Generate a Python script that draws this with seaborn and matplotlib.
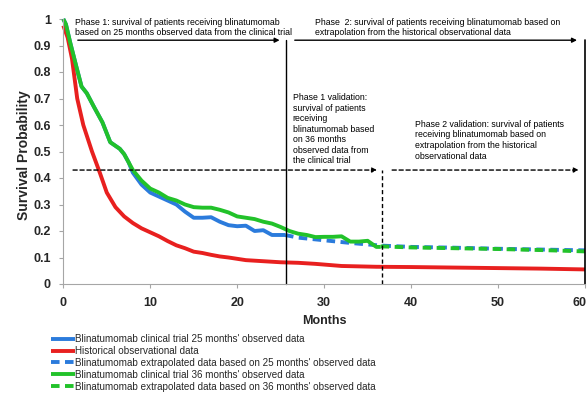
import matplotlib
matplotlib.use("Agg")
import matplotlib.pyplot as plt
import seaborn as sns
import pandas as pd

# ---------------- data ----------------
m_trial25 = [0, 0.3, 0.8, 1.5, 2.1, 2.7, 3.5, 4.5, 5.4, 6.5, 7, 7.5, 8, 9, 10, 11, 12, 13, 14, 15,
             16, 17, 18, 19, 20, 21, 22, 23, 24, 25, 25.5]
s_trial25 = [1.0, 0.98, 0.91, 0.82, 0.745, 0.72, 0.67, 0.61, 0.535, 0.51, 0.49, 0.46, 0.42, 0.375,
             0.345, 0.33, 0.315, 0.3, 0.273, 0.25, 0.25, 0.252, 0.235, 0.222, 0.218, 0.22, 0.2,
             0.203, 0.185, 0.185, 0.185]

m_hist = [0, 0.5, 1, 1.6, 2.3, 3.3, 4.2, 5, 6, 7, 8, 9, 10, 11, 12, 13, 14, 15, 16, 17, 18, 19,
          20, 21, 22, 23, 25, 27, 29, 32, 36, 40, 45, 50, 55, 60]
s_hist = [0.975, 0.93, 0.85, 0.7, 0.6, 0.5, 0.42, 0.345, 0.29, 0.255, 0.23, 0.21, 0.195, 0.18,
          0.162, 0.146, 0.135, 0.122, 0.117, 0.11, 0.104, 0.1, 0.095, 0.09, 0.088, 0.086, 0.082,
          0.08, 0.076, 0.068, 0.065, 0.064, 0.062, 0.06, 0.058, 0.055]

m_extra25 = [25.5, 27, 30, 33, 36.5, 40, 45, 50, 55, 60]
s_extra25 = [0.185, 0.175, 0.165, 0.155, 0.145, 0.14, 0.137, 0.133, 0.13, 0.127]

m_trial36 = [0, 0.3, 0.8, 1.5, 2.1, 2.7, 3.5, 4.5, 5.4, 6.5, 7, 8, 9, 10, 11, 12, 13, 14, 15, 16,
             17, 18, 19, 20, 21, 22, 23, 24, 25, 26, 27, 28, 29, 30, 31, 32, 33, 34, 35, 36, 36.5]
s_trial36 = [1.0, 0.98, 0.91, 0.82, 0.745, 0.72, 0.67, 0.61, 0.535, 0.51, 0.49, 0.43, 0.39, 0.36,
             0.345, 0.325, 0.315, 0.3, 0.29, 0.288, 0.288, 0.28, 0.27, 0.255, 0.25, 0.245, 0.235,
             0.228, 0.215, 0.2, 0.19, 0.185, 0.177, 0.178, 0.178, 0.18, 0.16, 0.16, 0.163, 0.14,
             0.14]

m_extra36 = [36.5, 40, 45, 50, 55, 60]
s_extra36 = [0.142, 0.138, 0.135, 0.132, 0.128, 0.123]

labels = ["Blinatumomab clinical trial 25 months' observed data",
          "Historical observational data",
          "Blinatumomab extrapolated data based on 25 months' observed data",
          "Blinatumomab clinical trial 36 months' observed data",
          "Blinatumomab extrapolated data based on 36 months' observed data"]

x_ticks = [0, 10, 20, 30, 40, 50, 60]
x_ticklabels = ["0", "10", "20", "30", "40", "50", "60"]
y_ticks = [0, 0.1, 0.2, 0.3, 0.4, 0.5, 0.6, 0.7, 0.8, 0.9, 1.0]
y_ticklabels = ["0", "0.1", "0.2", "0.3", "0.4", "0.5", "0.6", "0.7", "0.8", "0.9", "1"]

# ---------------- style ----------------
sns.set_style("white")
plt.rcParams['font.family'] = ['Liberation Sans', 'DejaVu Sans']

BLUE = "#2b7bdc"
RED = "#e8201f"
GREEN = "#22c22a"
LW = 2.8

fig = plt.figure(figsize=(5.87, 3.95), dpi=100)
ax = fig.add_axes([63.3 / 587, 1 - 284 / 395, (585 - 63.3) / 587, (284 - 19) / 395])

def draw(m, s, color, label, dashed=False):
    df = pd.DataFrame({"Months": m, "Survival": s})
    sns.lineplot(data=df, x="Months", y="Survival", ax=ax, color=color, lw=LW, label=label,
                 clip_on=False, solid_capstyle="butt")
    if dashed:
        ax.lines[-1].set_dashes([2.2, 1.4])

draw(m_trial25, s_trial25, BLUE, labels[0])
draw(m_hist, s_hist, RED, labels[1])
draw(m_extra25, s_extra25, BLUE, labels[2], dashed=True)
draw(m_trial36, s_trial36, GREEN, labels[3])
draw(m_extra36, s_extra36, GREEN, labels[4], dashed=True)

ax.set_xlim(0, 60)
ax.set_ylim(0, 1)
ax.set_xticks(x_ticks)
# last label drawn separately (right-aligned) so it stays inside the figure like the reference
ax.set_xticklabels(x_ticklabels[:-1] + [""], fontweight="bold", fontsize=9)
ax.annotate(x_ticklabels[-1], xy=(x_ticks[-1], 0), xycoords=ax.get_xaxis_transform(),
            xytext=(1.0, -9), textcoords="offset points", ha="right", va="top",
            fontweight="bold", fontsize=9)
ax.set_yticks(y_ticks)
ax.set_yticklabels(y_ticklabels, fontweight="bold", fontsize=9)
ax.set_xlabel("Months", fontweight="bold", fontsize=9, labelpad=5)
ax.set_ylabel("Survival Probability", fontweight="bold", fontsize=10)
ax.yaxis.set_label_coords(-0.062, 0.485)
for side in ["top", "right"]:
    ax.spines[side].set_visible(False)
for side in ["left", "bottom"]:
    ax.spines[side].set_color("#a6a6a6")
    ax.spines[side].set_linewidth(0.8)
ax.tick_params(axis="both", which="both", length=3, width=0.8, color="#a6a6a6",
               direction="out", bottom=True, left=True, pad=6)

# ---------------- annotations ----------------
ann_font = dict(family=['Liberation Sans Narrow', 'Liberation Sans'], fontsize=6.3, color="black")

# vertical separators
ax.plot([25.6, 25.6], [0, 0.92], color="black", lw=1.0, clip_on=False)
ax.plot([60, 60], [0, 0.92], color="black", lw=1.2, clip_on=False)
ax.plot([36.7, 36.7], [0, 0.43], color="black", lw=1.0, ls=(0, (3, 2)), clip_on=False)

# top solid arrows
arr = dict(arrowstyle="-|>", color="black", lw=1.0, mutation_scale=7)
ax.annotate("", xy=(25.2, 0.92), xytext=(1.35, 0.92), arrowprops=arr)
ax.annotate("", xy=(59.4, 0.92), xytext=(26.3, 0.92), arrowprops=arr)

# dashed arrows
arr_d = dict(arrowstyle="-|>", color="black", lw=1.0, ls=(0, (3, 2)), mutation_scale=7)
ax.annotate("", xy=(36.4, 0.43), xytext=(0.8, 0.43), arrowprops=arr_d)
ax.annotate("", xy=(59.6, 0.43), xytext=(37.5, 0.43), arrowprops=arr_d)

ax.text(1.35, 0.933, "Phase 1: survival of patients receiving blinatumomab\n"
        "based on 25 months observed data from the clinical trial",
        ha="left", va="bottom", linespacing=1.15, **ann_font)
ax.text(29.0, 0.933, "Phase  2: survival of patients receiving blinatumomab based on\n"
        "extrapolation from the historical observational data",
        ha="left", va="bottom", linespacing=1.15, **ann_font)
ax.text(26.4, 0.448, "Phase 1 validation:\nsurvival of patients\nreceiving\n"
        "blinatumomab based\non 36 months\nobserved data from\nthe clinical trial",
        ha="left", va="bottom", linespacing=1.22, **ann_font)
ax.text(40.4, 0.466, "Phase 2 validation: survival of patients\nreceiving blinatumomab based on\n"
        "extrapolation from the historical\nobservational data",
        ha="left", va="bottom", linespacing=1.22, **ann_font)

# ---------------- legend ----------------
leg = ax.legend(loc="upper left", bbox_to_anchor=(51 / 587, 1 - 334 / 395),
                bbox_transform=fig.transFigure,
                frameon=False, fontsize=7.1, handlelength=2.45, handletextpad=0.0,
                labelspacing=0.2, borderaxespad=0, borderpad=0)

fig.savefig("out.png", dpi=100)
